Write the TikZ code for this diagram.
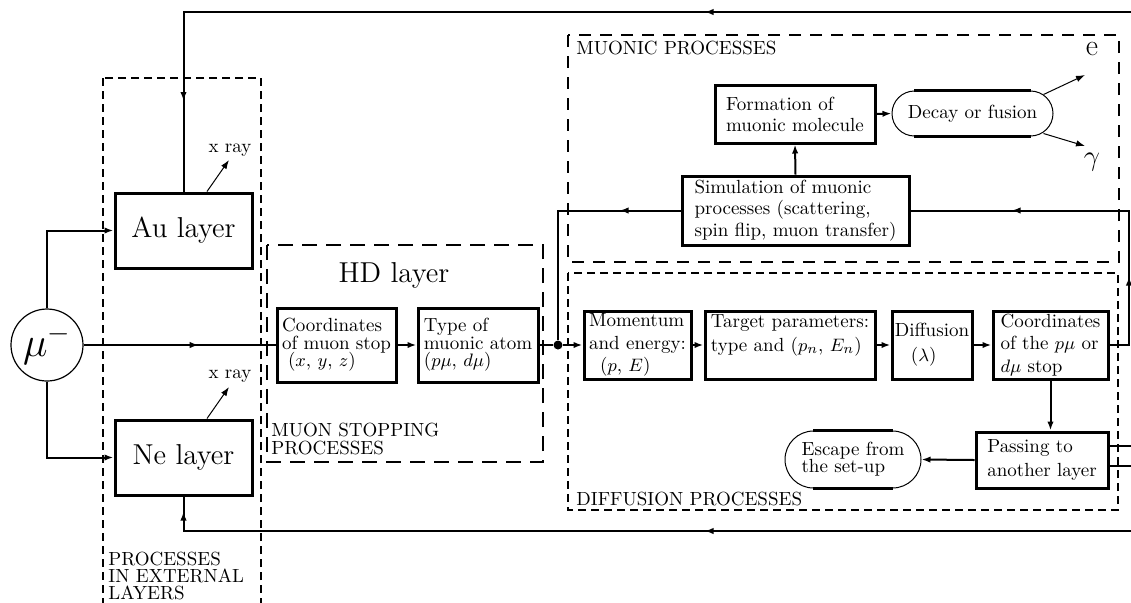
\documentclass[tikz,border=0pt]{standalone}
\usetikzlibrary{arrows.meta,decorations.markings,calc}
\newcommand\bxf[1]{\fontsize{9.5}{#1}\selectfont\lineskiplimit=-20pt\relax}
\begin{document}
\begin{tikzpicture}[x=0.5pt,y=-0.5pt,
  >={Latex[length=4.5pt,width=3.2pt]},
  box/.style={draw,line width=1.5pt,align=left,inner sep=1pt,font=\bxf{#1}},
  box/.default=11.5pt,
  stad/.style={draw,line width=0.5pt,rounded corners=#1,align=left,inner sep=1pt,font=\bxf{8.5pt}},
  conn/.style={line width=1pt},
  thinarr/.style={line width=0.5pt,->},
  dashA/.style={line width=1.1pt,dash pattern=on 4pt off 2.5pt},
  dashB/.style={line width=1.1pt,dash pattern=on 7.5pt off 4.5pt},
  dashC/.style={line width=1.1pt,dash pattern=on 6pt off 4.5pt},
  midtip/.style={postaction={decorate,decoration={markings,mark=at position #1 with {\arrow{Latex[length=4.5pt,width=3.2pt]}}}}},
  twotips/.style 2 args={postaction={decorate,decoration={markings,mark=at position #1 with {\arrow{Latex[length=4.5pt,width=3.2pt]}},mark=at position #2 with {\arrow{Latex[length=4.5pt,width=3.2pt]}}}}},
  lbl/.style={font=\bxf{8.5pt},align=left,inner sep=0pt},
  big/.style={font=\fontsize{14.4}{17}\selectfont},
]
\useasboundingbox (0,0) rectangle (1131,602);
\clip (0,0) rectangle (1131,602);

% dashed containers
\draw[dashA] (103,78) rectangle (261,640);
\draw[dashB] (267,245) rectangle (543,462);
\draw[dashC] (568,35) rectangle (1119,262);
\draw[dashA] (568,273) rectangle (1118,510);

% container labels
\node[lbl,anchor=north west] (lext) at (108,552) {PROCESSES\\IN EXTERNAL\\LAYERS};
\node[lbl,font=\bxf{9pt},anchor=north west] (lhd) at (271,423) {MUON STOPPING\\PROCESSES};
\node[lbl,anchor=base west] (lmu) at (576,54) {MUONIC PROCESSES};
\node[lbl,anchor=base west] (ldif) at (576,505) {DIFFUSION PROCESSES};
\node[big,anchor=base,inner sep=0pt] (hdt) at (394,282) {HD layer};

% nodes
\node[circle,draw,line width=0.6pt,minimum size=36pt,inner sep=0pt,font=\fontsize{20}{24}\selectfont] (mu) at (47,345) {$\mu^-$};
\node[box,big,minimum width=68.5pt,minimum height=37.5pt] (au) at (183.5,230.5) {Au layer};
\node[box,big,minimum width=68.5pt,minimum height=37.5pt] (ne) at (183.5,457.5) {Ne layer};

\node[box=8.75pt,minimum width=59.5pt,minimum height=37pt] (cs) at (336.5,345) {Coordinates\\of muon stop\\\hspace*{3pt}($x$, $y$, $z$)};
\node[box=8.75pt,minimum width=60pt,minimum height=37pt] (type) at (478,345) {Type of\\muonic atom\\($p\mu$, $d\mu$)};
\node[circle,fill,inner sep=0pt,minimum size=4.5pt] (dot) at (558,345) {};

\node[box=11.25pt,minimum width=53.5pt,minimum height=34pt] (mom) at (637.5,345) {Momentum\\and energy:\\\hspace*{5.5pt}($p$, $E$)};
\node[box=12pt,minimum width=85pt,minimum height=34pt] (tgt) at (790,345) {Target parameters:\\type and ($p_n$, $E_n$)\\\mbox{}};
\node[box=12.5pt,minimum width=40pt,minimum height=34pt,inner sep=0.5pt] (dif) at (932,345) {Diffusion\\\hspace*{8pt}($\lambda$)};
\node[box=11.25pt,minimum width=57.5pt,minimum height=34pt] (cst) at (1050.5,345) {Coordinates\\of the $p\mu$ or\\$d\mu$ stop};
\node[box=12pt,minimum width=66pt,minimum height=28pt] (pass) at (1042,460) {Passing to\\another layer};
\node[stad=14.25pt,minimum width=68pt,minimum height=28.5pt] (esc) at (853,459.5) {Escape from\\the set-up};
\draw[line width=1.3pt] ([xshift=14.25pt]esc.north west) -- ([xshift=-14.25pt]esc.north east);
\draw[line width=1.3pt] ([xshift=14.25pt]esc.south west) -- ([xshift=-14.25pt]esc.south east);

\node[box=10.75pt,minimum width=113.5pt,minimum height=34.5pt] (sim) at (795.5,210.5) {Simulation of muonic\\processes (scattering,\\spin flip, muon transfer)};
\node[box=10.5pt,minimum width=80pt,minimum height=29pt] (form) at (795,114) {Formation of\\muonic molecule};
\node[stad=11.25pt,minimum width=80.5pt,minimum height=22.5pt] (dec) at (972.5,113.5) {Decay or fusion};
\draw[line width=1.3pt] ([xshift=11.25pt]dec.north west) -- ([xshift=-11.25pt]dec.north east);
\draw[line width=1.3pt] ([xshift=11.25pt]dec.south west) -- ([xshift=-11.25pt]dec.south east);

% small labels
\node[font=\bxf{10pt},anchor=base,inner sep=0pt] (xa) at (230,152) {x ray};
\node[font=\bxf{10pt},anchor=base,inner sep=0pt] (xn) at (230,378) {x ray};
\node[font=\fontsize{15}{18}\selectfont,anchor=base,inner sep=0pt] (le) at (1092,55) {e};
\node[font=\fontsize{15}{18}\selectfont,anchor=base,inner sep=0pt] (lg) at (1092,165) {$\gamma$};
\coordinate (xaT) at (229,160);
\coordinate (xnT) at (229,387);
\coordinate (eT) at (1085,75);
\coordinate (gT) at (1085,146);

% thin arrows
\draw[thinarr] ($(au.north)+(23.5,0)$) -- (xaT);
\draw[thinarr] ($(ne.north)+(23.5,0)$) -- (xnT);
\draw[thinarr] ($(dec.north east)+(-10,4)$) -- (eT);
\draw[thinarr] ($(dec.south east)+(-10,-3)$) -- (gT);

% connectors
\draw[conn,->] (mu.north) |- (au.west);
\draw[conn,->] (mu.south) |- (ne.west);
\draw[conn,midtip=0.6] (mu.east) -- (cs.west);
\draw[conn,->] (cs) -- (type);
\draw[conn] (type) -- (dot);
\draw[conn,->] (dot) -- (mom);
\draw[conn,->] (mom) -- (tgt);
\draw[conn,->] (tgt) -- (dif);
\draw[conn,->] (dif) -- (cst);
\draw[conn,->] (cst.south) -- (cst.south |- pass.north);
\draw[conn,->] (pass.west) -- (esc.east);
\draw[conn,->] (sim.north) -- (form.south);
\draw[conn,->] (form.east) -- (dec.west);

\coordinate (cR) at (1129,210.5);
\draw[conn,twotips={44pt}{135.75pt}] (cst.east) -| (cR) -- (sim.east);
\draw[conn,midtip=30.5pt] (sim.west) -| (dot);

\draw[conn,twotips={455pt}{760pt}] ([yshift=7pt]pass.east) -- (1145,446) -- (1145,12) -| (au.north);
\draw[conn,twotips={270.5pt}{540.75pt}] ([yshift=-3pt]pass.east) -- (1145,466) -- (1145,531) -| (ne.south);
\end{tikzpicture}
\end{document}
